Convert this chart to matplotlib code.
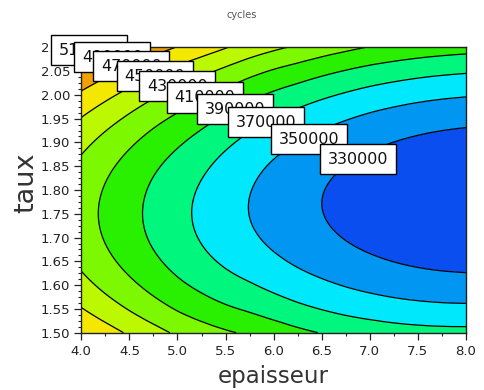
import numpy as np
import matplotlib
matplotlib.use("Agg")
import matplotlib.pyplot as plt
from matplotlib.patches import Rectangle
from matplotlib.tri import Triangulation, UniformTriRefiner, CubicTriInterpolator

# thickness (x) and rate (y) grid
epaisseur = [4.00, 4.25, 4.50, 4.75, 5.00, 5.25, 5.50, 5.75, 6.00,
             6.25, 6.50, 6.75, 7.00, 7.25, 7.50, 7.75, 8.00]
taux = [1.50, 1.55, 1.60, 1.65, 1.70, 1.75, 1.80,
        1.85, 1.90, 1.95, 2.00, 2.05, 2.10]

# number of cycles, one row per taux value
cycles = [
    [469560, 458260, 447360, 436860, 427060, 419110, 412420, 407100, 400790, 394430, 389190, 384740, 381380, 378600, 376760, 375740, 375500],
    [451000, 439700, 428800, 418300, 408500, 400300, 393190, 387380, 380980, 374710, 369430, 364860, 361250, 358270, 356150, 354840, 354290],
    [436560, 425260, 414360, 403860, 394060, 385610, 378100, 371790, 365250, 359010, 353670, 348980, 345150, 341990, 339630, 338070, 337250],
    [426250, 414950, 404050, 393550, 383750, 375050, 367120, 360320, 353600, 347340, 341910, 337100, 333080, 329760, 327190, 325430, 324400],
    [420060, 408760, 397860, 387360, 377560, 368620, 360280, 352980, 346020, 339690, 334150, 329220, 325030, 321580, 318850, 316930, 315710],
    [418000, 406700, 395800, 385300, 375500, 366310, 357550, 349760, 342510, 336070, 330390, 325340, 321000, 317450, 314600, 312550, 311200],
    [419950, 408640, 397730, 387210, 377410, 368020, 358910, 350660, 343100, 336510, 330660, 325490, 321030, 317380, 314440, 312310, 310870],
    [425800, 414450, 403500, 392950, 383150, 373640, 364270, 355630, 347830, 341130, 335110, 329820, 325230, 321500, 318480, 316250, 314730],
    [435550, 424140, 413130, 402510, 392710, 383160, 373630, 364670, 356710, 349950, 343760, 338340, 333630, 329820, 326710, 324400, 322800],
    [449200, 437700, 426600, 415900, 406100, 396570, 386990, 377800, 369740, 362970, 356610, 351070, 346230, 342330, 339140, 336750, 335060],
    [466750, 455140, 443930, 433110, 423310, 413890, 404350, 394990, 386920, 380190, 373670, 367990, 363030, 359050, 355770, 353300, 351530],
    [488200, 476450, 465100, 454150, 444350, 435100, 425710, 416260, 408250, 401610, 394920, 389120, 384030, 379960, 376600, 374050, 372190],
    [513550, 501640, 490130, 479010, 469210, 460220, 451070, 441610, 433740, 427230, 420370, 414450, 409230, 405080, 401640, 398990, 397050],
]

levels = [330000, 350000, 370000, 390000, 410000, 430000,
          450000, 470000, 490000, 510000]

# fill colours, lowest band first (below 330000 ... above 510000)
band_colors = ["#0a4ef0", "#0096f2", "#00e8fc", "#00f67c", "#28f000",
               "#7cf800", "#bcf800", "#f5e800", "#f0a000", "#f06000",
               "#e82000"]

# lower-left corners of the level label boxes (data units)
label_anchor = [(6.481, 1.8327), (5.969, 1.8749), (5.528, 1.9122),
                (5.200, 1.9382), (4.888, 1.9629), (4.603, 1.9873),
                (4.368, 2.0084), (4.125, 2.0295), (3.924, 2.0473),
                (3.682, 2.0627)]

W, H = 484, 390
fig = plt.figure(figsize=(W / 100, H / 100), dpi=100)
L, R, T, B = 81.3, 466.0, 47.3, 332.7
ax = fig.add_axes([L / W, 1 - B / H, (R - L) / W, (B - T) / H])

# triangulate the grid in normalised units, then refine it with a cubic
# interpolator so the iso-lines come out smooth
xs = np.array(epaisseur)
ys = np.array(taux)
Z = np.array(cycles, dtype=float)
nx, ny = len(xs), len(ys)
U, V = np.meshgrid((xs - xs[0]) / (xs[-1] - xs[0]),
                   (ys - ys[0]) / (ys[-1] - ys[0]))
tris = []
for j in range(ny - 1):
    for i in range(nx - 1):
        a = j * nx + i
        tris.append([a, a + 1, a + nx + 1])
        tris.append([a, a + nx + 1, a + nx])
tri = Triangulation(U.ravel(), V.ravel(), np.array(tris))
interp = CubicTriInterpolator(tri, Z.ravel(), kind="geom")
tri_f, z_f = UniformTriRefiner(tri).refine_field(Z.ravel(), triinterpolator=interp,
                                                 subdiv=3)
tri_xy = Triangulation(xs[0] + tri_f.x * (xs[-1] - xs[0]),
                       ys[0] + tri_f.y * (ys[-1] - ys[0]), tri_f.triangles)

ax.tricontourf(tri_xy, z_f, levels=levels, colors=band_colors, extend="both")
ax.tricontour(tri_xy, z_f, levels=levels, colors="black", linewidths=0.9)

ax.set_xlim(4.0, 8.0)
ax.set_ylim(1.5, 2.1)

xmaj = np.arange(4.0, 8.01, 0.5)
ymaj = np.arange(1.5, 2.101, 0.05)
ax.set_xticks(xmaj)
ax.set_xticklabels([f"{v:.1f}" for v in xmaj])
ax.set_xticks(np.arange(4.0, 8.01, 0.25), minor=True)
ax.set_yticks(ymaj)
ax.set_yticklabels([f"{v:.2f}" for v in ymaj])
ax.set_yticks(np.arange(1.5, 2.101, 0.0125), minor=True)

ax.tick_params(which="major", direction="out", length=5, width=0.9,
               labelsize=9.5, pad=3, colors="#222222")
ax.tick_params(axis="x", which="major", pad=4)
ax.tick_params(which="minor", direction="out", length=2.5, width=0.8,
               colors="#222222")
for s in ax.spines.values():
    s.set_linewidth(1.0)
    s.set_color("#222222")

fig.text(273.6 / W, 1 - 383.3 / H, "epaisseur", ha="center", va="baseline",
         fontsize=16.5, color="#333333")
fig.text(33 / W, 1 - 183 / H, "taux", ha="center", va="baseline",
         rotation=90, rotation_mode="anchor", fontsize=19.5, color="#333333")
fig.text(0.5, 1 - 17.5 / H, "cycles", ha="center", va="baseline",
         fontsize=7, color="#555555")

# level labels in white boxes; lower levels are stacked on top
bw = 76 / 96.2
bh = 30 / 474.0
order = sorted(range(len(levels)), key=lambda k: -levels[k])
for n, k in enumerate(order):
    x0, y0 = label_anchor[k]
    ax.add_patch(Rectangle((x0, y0), bw, bh, facecolor="white",
                           edgecolor="black", linewidth=1.0,
                           clip_on=False, zorder=10 + 2 * n))
    ax.text(x0 + 8 / 96.2, y0 + 10 / 474.0, f"{levels[k]:d}", fontsize=11.5,
            ha="left", va="baseline", color="#111111", zorder=11 + 2 * n,
            clip_on=False)

fig.savefig("out.png", dpi=100)
